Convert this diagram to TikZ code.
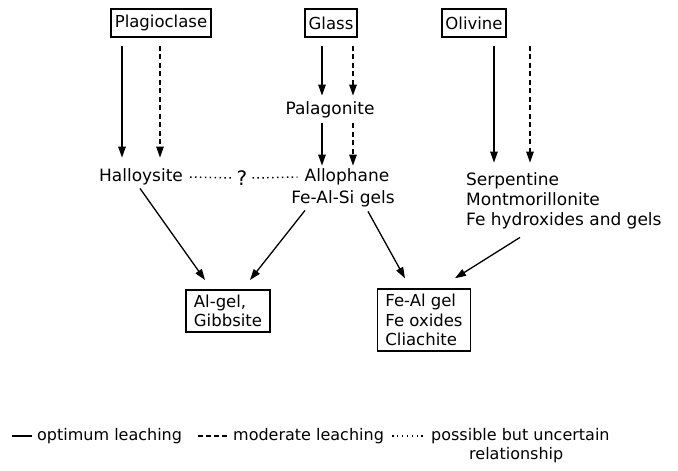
\documentclass[tikz,border=0pt]{standalone}
\usepackage{fontspec}
\setmainfont{DejaVu Sans}
\usetikzlibrary{arrows.meta,calc}
\begin{document}
\begin{tikzpicture}[x=1pt,y=-1pt,
  box/.style={draw,line width=1.7pt,font=\fontsize{16.5}{19.5}\selectfont,inner xsep=3.5pt,minimum height=28pt},
  bigbox/.style={draw,line width=1.7pt,font=\fontsize{16.5}{19.5}\selectfont,align=left,inner xsep=8pt,inner ysep=5pt},
  txt/.style={font=\fontsize{17}{20}\selectfont,inner sep=1pt},
  legtxt/.style={font=\fontsize{16}{19}\selectfont,inner sep=1pt},
  opt/.style={line width=1.3pt,-{Triangle[length=11pt,width=7.5pt]}},
  mod/.style={line width=1.3pt,dash pattern=on 5pt off 3.5pt,-{Triangle[length=11pt,width=7.5pt]}},
  unc/.style={line width=1.5pt,dash pattern=on 1.5pt off 3.4pt},
  optline/.style={line width=1.5pt},
  modline/.style={line width=1.5pt,dash pattern=on 5pt off 3pt}]
\useasboundingbox (0,0) rectangle (678,471);
% source boxes
\node[box] (plag) at (161,23) {Plagioclase};
\node[box] (glass) at (331,23) {Glass};
\node[box] (oliv) at (474,23) {Olivine};
% intermediate
\node[txt] (pal) at (330,110) {Palagonite};
\node[txt] (hal) at (141,177) {Halloysite};
\node[txt,font=\fontsize{20}{20}\selectfont] (q) at (242,178) {?};
\node[txt] (allo) at (347,177) {Allophane};
\node[txt] (fegel) at (343,199) {Fe-Al-Si gels};
\node[txt,align=left,anchor=west] (serp) at (465,201) {Serpentine\\Montmorillonite\\Fe hydroxides and gels};
% products
\node[bigbox] (algel) at (228,311) {Al-gel,\\Gibbsite};
\node[bigbox] (feal) at (424,320) {Fe-Al gel\\Fe oxides\\Cliachite};
% plagioclase arrows
\draw[opt] ($(plag.south)+(-39,8)$) -- ($(plag.south |- hal.north)+(-39,-10)$);
\draw[mod] ($(plag.south)+(-1,8)$) -- ($(plag.south |- hal.north)+(-1,-10)$);
% glass arrows
\draw[opt] ($(glass.south)+(-9,8)$) -- ($(glass.south |- pal.north)+(-9,-5)$);
\draw[mod] ($(glass.south)+(22,8)$) -- ($(glass.south |- pal.north)+(22,-5)$);
\draw[opt] ($(glass.south |- pal.south)+(-9,4)$) -- ($(glass.south |- allo.north)+(-9,-2)$);
\draw[mod] ($(glass.south |- pal.south)+(22,4)$) -- ($(glass.south |- allo.north)+(22,-2)$);
% olivine arrows
\draw[opt] ($(oliv.south)+(20,8)$) -- ($(oliv.south |- serp.north)+(20,-9)$);
\draw[mod] ($(oliv.south)+(56,8)$) -- ($(oliv.south |- serp.north)+(56,-9)$);
% uncertain relationship
\draw[unc] ($(hal.east)+(6,0)$) -- ($(q.west)+(-4,0)$);
\draw[unc] ($(q.east)+(4,0)$) -- ($(allo.west)+(-6,0)$);
% to products
\draw[opt] ($(hal.south)+(-1,2)$) -- ($(algel.north)+(-23,-9)$);
\draw[opt] ($(fegel.south)+(-38,2)$) -- ($(algel.north)+(22,-9)$);
\draw[opt] ($(fegel.south)+(25,3)$) -- ($(feal.north)+(-19,-10)$);
\draw[opt] ($(serp.south west)+(55,7)$) -- ($(feal.north)+(31,-10)$);
% legend
\coordinate (l1a) at (12,436); \coordinate (l1b) at (32,436);
\draw[optline] (l1a) -- (l1b);
\node[legtxt,anchor=west] (leg1) at (36,436) {optimum leaching};
\coordinate (l2a) at (198,436); \coordinate (l2b) at (228,436);
\draw[modline] (l2a) -- (l2b);
\node[legtxt,anchor=west] (leg2) at (232,436) {moderate leaching};
\coordinate (l3a) at (392,436); \coordinate (l3b) at (425,436);
\draw[unc] (l3a) -- (l3b);
\node[legtxt,anchor=west] (leg3) at (430,436) {possible but uncertain};
\node[legtxt,anchor=west] (leg4) at (468,455) {relationship};
\end{tikzpicture}
\end{document}
